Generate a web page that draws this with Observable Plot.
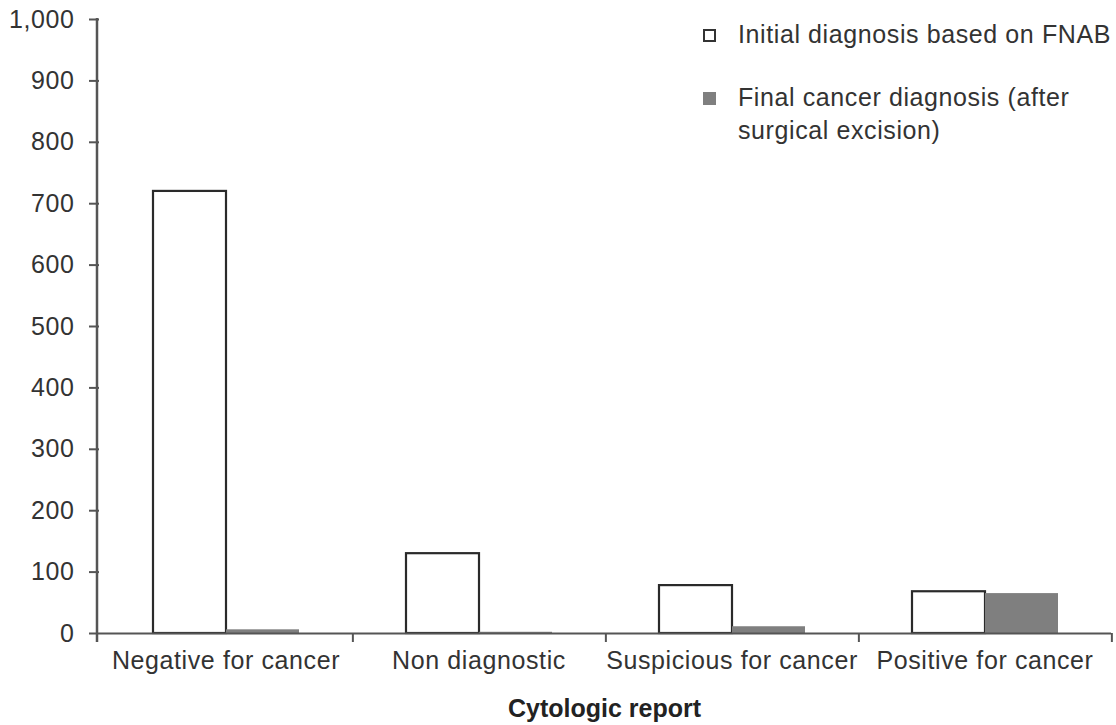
<!DOCTYPE html>
<html><head><meta charset="utf-8">
<script src="https://cdn.jsdelivr.net/npm/d3@7"></script>
<script src="https://cdn.jsdelivr.net/npm/@observablehq/plot@0.6"></script>
<style>
body{margin:0;background:#fff;font-family:"Liberation Sans",Arial,sans-serif;}
#wrap{position:relative;width:1116px;height:725px;}
#legend{position:absolute;left:703px;top:18px;font-size:25px;letter-spacing:0.6px;color:#333;line-height:33px;}
.item{display:flex;align-items:flex-start;margin-bottom:30px;}
.sw{width:13px;height:13px;margin-top:11px;margin-right:22px;box-sizing:border-box;flex:none;}
</style></head>
<body><div id="wrap"><div id="legend"></div></div>
<script>
const categories = ["Negative for cancer","Non diagnostic","Suspicious for cancer","Positive for cancer"];
const seriesNames = ["Initial diagnosis based on FNAB","Final cancer diagnosis (after surgical excision)"];
const initialValues = [720, 130, 78, 68];
const finalValues = [6, 2, 11, 65];
const yTicks = [0,100,200,300,400,500,600,700,800,900,1000];

const data = [];
categories.forEach((c,i)=>{
  data.push({cat:c, series:seriesNames[0], value:initialValues[i]});
  data.push({cat:c, series:seriesNames[1], value:finalValues[i]});
});

const W = 1116, ML = 97, MR = 4;
const step = (W - ML - MR) / categories.length;

const plot = Plot.plot({
  width: W, height: 725,
  marginLeft: ML, marginRight: MR, marginTop: 19, marginBottom: 92,
  style: {fontFamily: '"Liberation Sans", Arial, sans-serif', fontSize: "25px", letterSpacing: "0.6px", color: "#333", background: "transparent"},
  fx: {domain: categories, padding: 0, label: null, axis: null},
  x: {domain: seriesNames, paddingInner: 0, paddingOuter: 0.72, axis: null},
  y: {domain: [0, 1000], ticks: yTicks, tickFormat: d3.format(","), label: null, axis: null},
  marks: [
    Plot.barY(data.filter(d=>d.series===seriesNames[0]), {fx:"cat", x:"series", y:"value", fill:"white", stroke:"#2a2a2a", strokeWidth:2.2}),
    Plot.barY(data.filter(d=>d.series===seriesNames[1]), {fx:"cat", x:"series", y:"value", fill:"#7f7f7f"}),
    Plot.axisY({ticks: yTicks, tickFormat: d3.format(","), tickSize: 10, tickPadding: 15, label: null, stroke:"#555", strokeWidth:2}),
    Plot.axisFx({anchor: "bottom", tickSize: 0, tickPadding: 18, label: null}),
    Plot.axisFx({anchor: "bottom", tickSize: 9, text: null, label: null, dx: step/2, stroke:"#555", strokeWidth:2}),
    Plot.ruleY([0], {stroke:"#555", strokeWidth:2})
  ]
});
document.getElementById("wrap").appendChild(plot);

// y-axis line, from the y scale
const ys = plot.scale("y");
d3.select(plot).append("line")
  .attr("x1", ML).attr("x2", ML)
  .attr("y1", ys.apply(1000) - 1).attr("y2", ys.apply(0) + 9)
  .attr("stroke", "#555").attr("stroke-width", 2.5);

// x-axis title
const t = document.createElement("div");
t.textContent = "Cytologic report";
t.style.cssText = "position:absolute;left:"+ML+"px;width:"+(W-ML-MR)+"px;top:694px;text-align:center;font-weight:bold;font-size:25px;color:#222;";
document.getElementById("wrap").appendChild(t);

// legend
const leg = document.getElementById("legend");
const styles = [{background:"#fff", border:"2px solid #333"}, {background:"#7f7f7f", border:"none"}];
const legendLines = [["Initial diagnosis based on FNAB"],["Final cancer diagnosis (after","surgical excision)"]];
legendLines.forEach((lines,i)=>{
  const it = document.createElement("div"); it.className="item";
  const sw = document.createElement("div"); sw.className="sw";
  sw.style.background = styles[i].background; sw.style.border = styles[i].border;
  const tx = document.createElement("div"); tx.innerHTML = lines.join("<br>");
  it.appendChild(sw); it.appendChild(tx); leg.appendChild(it);
});
</script></body></html>
